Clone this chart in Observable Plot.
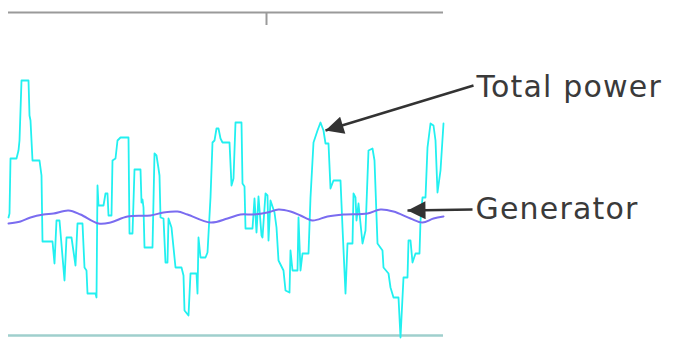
<!DOCTYPE html>
<html>
<head>
<meta charset="utf-8">
<script src="https://cdn.jsdelivr.net/npm/d3@7"></script>
<script src="https://cdn.jsdelivr.net/npm/@observablehq/plot@0.6"></script>
<style>
  html, body { margin: 0; padding: 0; background: #fff; }
  #chart { width: 676px; height: 341px; }
</style>
</head>
<body>
<div id="chart"></div>
<script>
// Total power trace (time index, power)
const totalTime = [0,1,2,8,10,11,13,20,21,22,24,31,33,34,44,46,48,51,56,58,63,67,69,74,76,78,79,87,88,89,90,95,97,99,100,103,104,107,109,112,120,121,124,126,132,133,134,135,136,144,146,148,150,151,152,155,157,159,160,163,167,173,175,176,180,182,188,189,190,192,197,199,202,204,206,208,210,212,214,221,223,225,227,233,234,236,237,244,246,248,250,253,254,257,259,260,262,266,268,270,275,277,281,282,284,289,290,292,294,300,302,305,309,312,315,317,320,322,325,332,334,337,339,344,345,347,348,350,354,357,360,364,366,369,374,375,380,382,385,390,392,394,395,399,400,402,404,407,411,412,414,417,419,422,425,427,429,432,435];
const totalPower = [118,122,177,177,185,195,255,255,220,215,175,175,160,94,94,72,115,115,55,98,98,70,112,112,68,65,42,42,38,150,130,130,142,142,120,120,175,177,195,198,198,102,102,166,166,133,136,128,88,88,182,180,167,160,118,117,73,73,117,108,68,68,60,25,20,62,62,42,98,78,78,83,138,193,195,207,207,197,193,193,150,157,213,213,152,149,107,107,137,103,139,100,98,142,140,95,135,123,108,75,65,45,43,85,65,65,118,65,82,82,138,193,205,213,205,192,192,147,155,155,108,42,92,92,142,138,115,132,92,105,185,187,175,92,85,68,62,48,38,38,-2,38,58,58,95,95,73,82,82,115,138,138,188,212,210,195,143,165,212];

// Generator trace
const genTime = [0,12,22,35,45,60,72,90,102,119,142,155,169,179,202,219,232,245,259,270,282,292,304,319,335,359,372,385,402,414,425,435];
const genPower = [112,114,118,121,122,125,121,112,113,119,120,123,124,121,113,117,121,121,123,126,124,120,115,119,121,122,126,124,117,113,117,119];

// Axis tick and labels
const topTicks = [258];
const labels = ["Total power", "Generator"];
const labelX = [468, 467];
const labelY = [248, 126];
const arrowFromX = [465, 464];
const arrowFromY = [250, 126];
const arrowToX = [317, 399];
const arrowToY = [205, 125];

const total = totalTime.map((t, i) => ({t, p: totalPower[i]}));
const gen = genTime.map((t, i) => ({t, p: genPower[i]}));
const notes = labels.map((text, i) => ({text, x: labelX[i], y: labelY[i], x1: arrowFromX[i], y1: arrowFromY[i], x2: arrowToX[i], y2: arrowToY[i]}));

const svg = Plot.plot({
  width: 676,
  height: 341,
  marginLeft: 8,
  marginRight: 233,
  marginTop: 12,
  marginBottom: 6,
  x: {domain: [0, 435], axis: null},
  y: {domain: [0, 323], axis: null},
  style: {background: "#fff", overflow: "visible"},
  marks: [
    Plot.ruleY([323], {stroke: "#9a9a9a", strokeWidth: 2}),
    Plot.ruleX(topTicks, {y1: 323, y2: 310, stroke: "#9a9a9a", strokeWidth: 2}),
    Plot.ruleY([0], {stroke: "#9fcfcd", strokeWidth: 2.5}),
    Plot.line(total, {x: "t", y: "p", stroke: "#22f0f0", strokeWidth: 1.8, strokeLinejoin: "round"}),
    Plot.line(gen, {x: "t", y: "p", stroke: "#7a6cf0", strokeWidth: 2, curve: "catmull-rom"}),
    Plot.link(notes, {x1: "x1", y1: "y1", x2: "x2", y2: "y2", stroke: "#333", strokeWidth: 2.5}),
    Plot.text(notes, {x: "x", y: "y", text: "text", textAnchor: "start", lineAnchor: "middle", fontSize: 30, fill: "#3a3a3a", fontFamily: "DejaVu Sans"})
  ]
});

// filled arrowheads for the annotation links
const s = d3.select(svg);
const defs = s.append("defs");
defs.append("marker")
  .attr("id", "ah")
  .attr("viewBox", "0 0 10 10")
  .attr("refX", 10)
  .attr("refY", 5)
  .attr("markerUnits", "userSpaceOnUse")
  .attr("markerWidth", 22)
  .attr("markerHeight", 18)
  .attr("orient", "auto")
  .append("path")
  .attr("d", "M0,0L10,5L0,10z")
  .attr("fill", "#333");
s.selectAll('g[aria-label="link"] path').attr("marker-end", "url(#ah)");
s.selectAll('g[aria-label="text"] text').style("letter-spacing", "1.2px");

document.getElementById("chart").appendChild(svg);
</script>
</body>
</html>
